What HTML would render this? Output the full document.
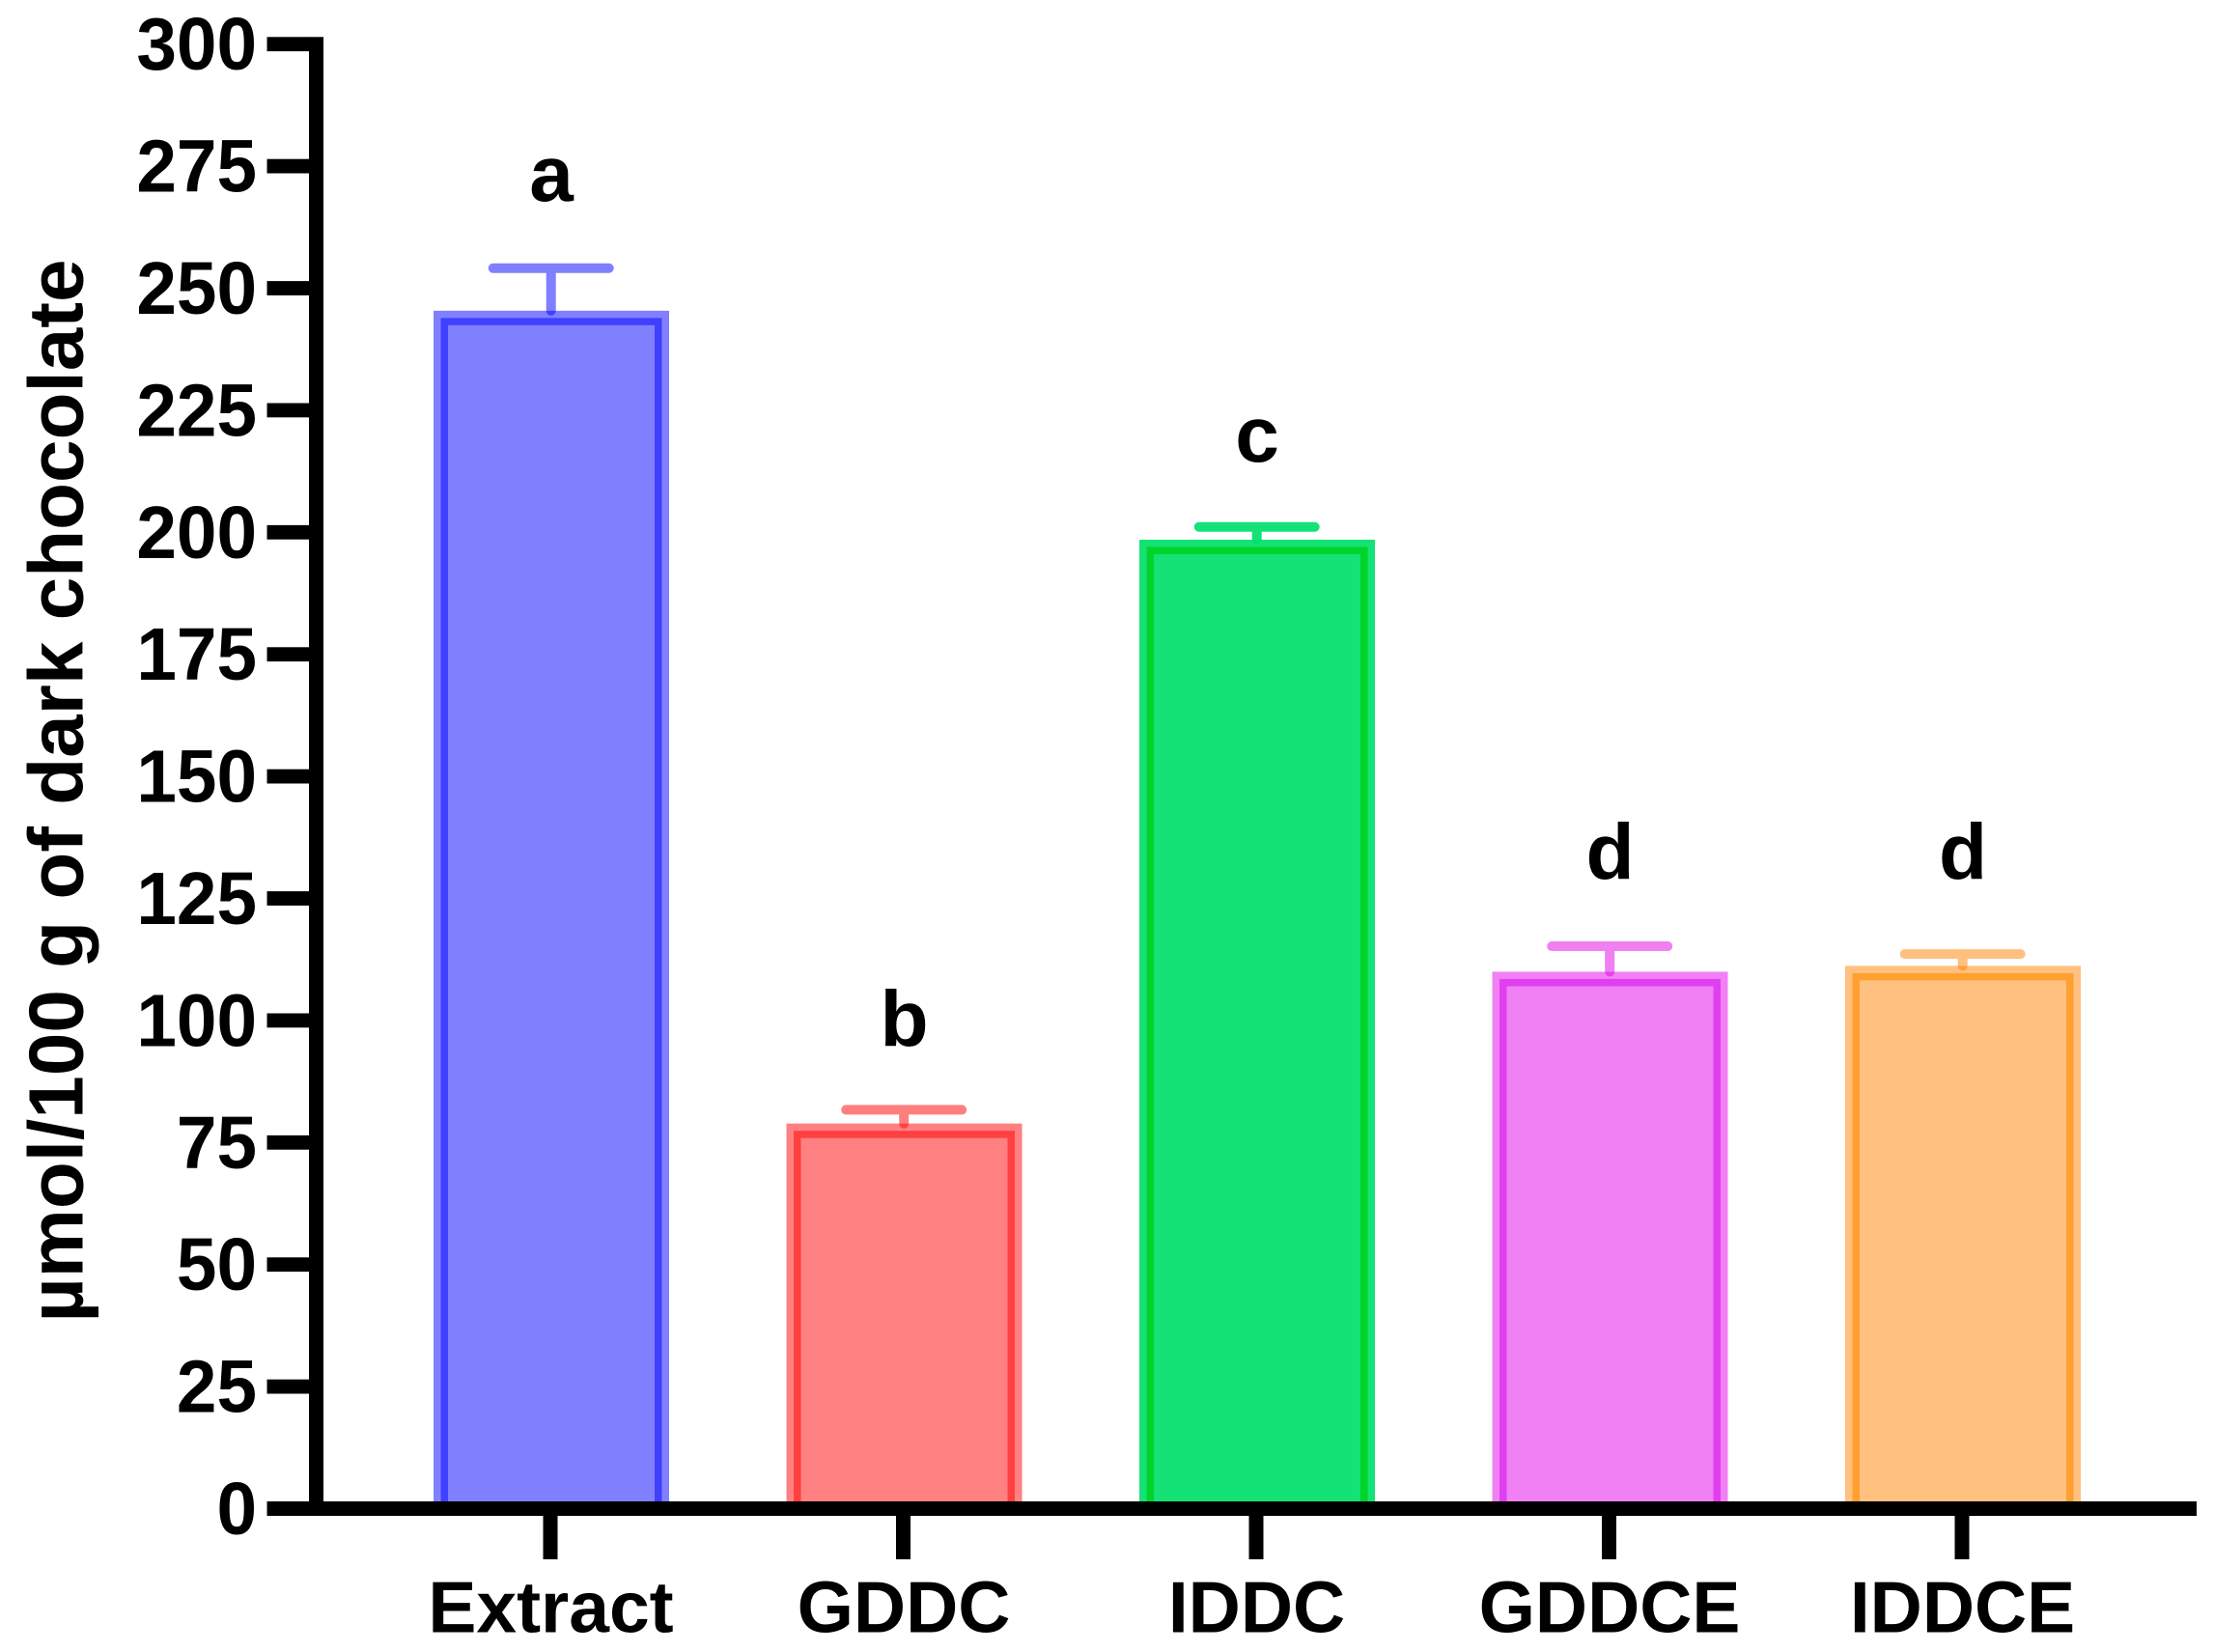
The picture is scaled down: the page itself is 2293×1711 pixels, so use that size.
<!DOCTYPE html>
<html lang="en">
<head>
<meta charset="utf-8">
<title>Dark chocolate bar chart</title>
<style>
html,body{margin:0;padding:0;background:#fff;}
svg{display:block;}
text{font-family:"Liberation Sans",Arial,sans-serif;font-weight:700;fill:#000;}
</style>
</head>
<body>
<svg id="chart" width="2293" height="1711" viewBox="0 0 2293 1711" xmlns="http://www.w3.org/2000/svg">
<rect x="0" y="0" width="2293" height="1711" fill="#ffffff"/>
<g id="bars"></g>
<g id="errors"></g>
<g id="letters"></g>
<g id="axes"></g>
<text transform="translate(85.5,819) rotate(-90)" text-anchor="middle" font-size="80.1">µmol/100 g of dark chocolate</text>
</svg>
<script>
const categories = ['Extract', 'GDDC', 'IDDC', 'GDDCE', 'IDDCE'];
const means = [243.9, 77.4, 197, 108.5, 109.7];
const errorTops = [254.1, 81.7, 201.1, 115.2, 113.6];
const letters = ['a', 'b', 'c', 'd', 'd'];
const letterLevels = [267.9, 94.7, 214.5, 129, 129];
const yTicks = [0, 25, 50, 75, 100, 125, 150, 175, 200, 225, 250, 275, 300];
const lightColors = ['#8080ff', '#ff8080', '#15e276', '#f080f4', '#ffc080'];
const darkColors = ['#4040ff', '#ff4040', '#00d32a', '#e03fef', '#ffa030'];
const errorColors = ['rgba(0,0,255,.5)', 'rgba(255,0,0,.5)', 'rgba(0,224,110,.92)', 'rgba(224,0,232,.5)', 'rgba(255,128,0,.5)'];

const NS = 'http://www.w3.org/2000/svg';
const Y0 = 1562.5, PX_PER_UNIT = 5.056;
const X0 = 570, STEP = 365.5;
const BAR_W = 229, BAND = 7.5;
function y(v) { return Y0 - v * PX_PER_UNIT; }
function x(i) { return X0 + i * STEP; }
function make(tag, parent, attrs) {
  const el = document.createElementNS(NS, tag);
  for (const k in attrs) el.setAttribute(k, attrs[k]);
  parent.appendChild(el);
  return el;
}
const barsG = document.getElementById('bars');
const errorsG = document.getElementById('errors');
const lettersG = document.getElementById('letters');
const axesG = document.getElementById('axes');

categories.forEach(function (cat, i) {
  const cx = x(i) + 1;
  const top = y(means[i]);
  const outer = make('rect', barsG, { x: cx - BAR_W / 2 - BAND, y: top - BAND, width: BAR_W + 2 * BAND, height: Y0 - top + BAND, fill: lightColors[i] });
  
  
  const inner = make('rect', barsG, { x: cx - BAR_W / 2 + BAND / 2, y: top + BAND / 2, width: BAR_W - BAND, height: Y0 - top, fill: 'none', stroke: darkColors[i], 'stroke-width': BAND });
  
  

  const ex = x(i) + 0.7;
  const ey = y(errorTops[i]);
  const err = make('path', errorsG, { d: 'M' + (ex - 60) + ' ' + ey + 'H' + (ex + 60) + 'M' + ex + ' ' + ey + 'V' + (top - BAND), fill: 'none', stroke: errorColors[i], 'stroke-width': 10, 'stroke-linecap': 'round' });
  
  

  const lt = make('text', lettersG, { x: x(i) + 1, y: y(letterLevels[i]), 'text-anchor': 'middle', 'font-size': 82 });
  lt.textContent = letters[i];
  
  

  const tk = make('rect', axesG, { x: x(i) - 7.5, y: Y0, width: 15, height: 52.5, fill: '#000' });
  
  

  const lb = make('text', axesG, { x: x(i) + 0.5, y: 1690.5, 'text-anchor': 'middle', 'font-size': 75 });
  lb.textContent = cat;
  
  
});

const yAxis = make('rect', axesG, { x: 320, y: y(300) - 7.4, width: 15, height: Y0 - y(300) + 14.9, fill: '#000' });


const xAxis = make('rect', axesG, { x: 276.5, y: Y0 - 7.5, width: 1998.5, height: 15, fill: '#000' });



yTicks.forEach(function (v) {
  const tk = make('rect', axesG, { x: 276.5, y: y(v) - 7.4, width: 44, height: 14.8, fill: '#000' });
  
  
  const lb = make('text', axesG, { transform: 'translate(266,' + (y(v) + 26.5) + ') scale(0.97,1)', 'text-anchor': 'end', 'font-size': 77 });
  lb.textContent = String(v);
  
  
});
</script>
</body>
</html>
